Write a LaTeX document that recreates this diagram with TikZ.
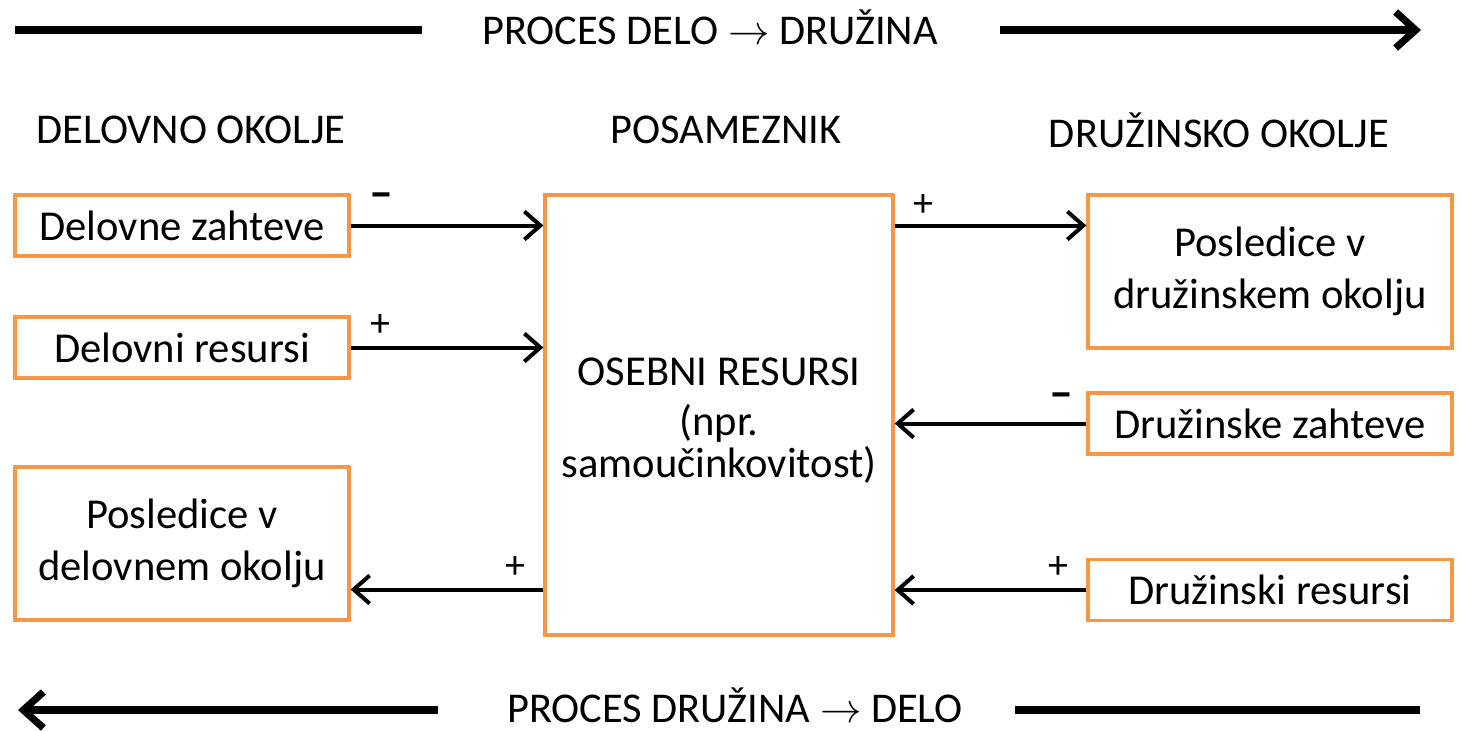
\documentclass[tikz,border=0pt]{standalone}
\usepackage{fontspec}
\setmainfont{Carlito}
\usetikzlibrary{arrows.meta}
\definecolor{boxorange}{RGB}{247,150,70}
\tikzset{
  box/.style={draw=boxorange, line width=1.6pt, align=center, inner sep=0pt,
    font=\fontsize{21.3}{26}\selectfont},
  head/.style={font=\fontsize{21.2}{24}\selectfont, inner sep=0pt},
  conn/.style={line width=2pt, -{Straight Barb[length=8pt,width=14pt,line width=2pt]}},
  big/.style={line width=3.6pt},
  bigtip/.style={line width=3.6pt, -{Straight Barb[length=10pt,width=18pt,line width=3.6pt]}},
  sign/.style={font=\fontsize{20}{24}\selectfont, inner sep=0pt},
  minussign/.style={font=\fontsize{24}{24}\bfseries\selectfont, inner sep=0pt},
}
\begin{document}
\begin{tikzpicture}[x=0.5pt,y=-0.5pt]
\useasboundingbox (0,0) rectangle (1461,730);
% boxes
\node[box, minimum width=334*0.5pt, minimum height=61*0.5pt] (dz) at (182,225.5) {Delovne zahteve};
\node[box, minimum width=334*0.5pt, minimum height=61*0.5pt] (dr) at (182,347.5) {Delovni resursi};
\node[box, minimum width=334*0.5pt, minimum height=153*0.5pt] (pd) at (182,543.5) {Posledice v\\delovnem okolju};
\node[box, minimum width=348*0.5pt, minimum height=440*0.5pt] (os) at (719,415) {};
\node[head, align=center, font=\fontsize{21.3}{21}\selectfont] (ost) at (719,421) {OSEBNI RESURSI\\[4pt](npr.\\samoučinkovitost)};
\node[box, minimum width=364*0.5pt, minimum height=153*0.5pt] (pz) at (1270,271.5) {Posledice v\\družinskem okolju};
\node[box, minimum width=364*0.5pt, minimum height=61*0.5pt] (zz) at (1270,423.5) {Družinske zahteve};
\node[box, minimum width=364*0.5pt, minimum height=61*0.5pt] (zr) at (1270,590) {Družinski resursi};
% headers
\node[head] (h1) at (191,130) {DELOVNO OKOLJE};
\node[head] (h2) at (726,130) {POSAMEZNIK};
\node[head] (h3) at (1219,130) {DRUŽINSKO OKOLJE};
% top and bottom processes
\node[head] (t1) at (710,27) {PROCES DELO $\rightarrow$ DRUŽINA};
\node[head] (t2) at (735,705) {PROCES DRUŽINA $\rightarrow$ DELO};
\coordinate (a1) at (15,30); \coordinate (a2) at (422,30);
\coordinate (a3) at (1000,30); \coordinate (a4) at (1421,30);
\coordinate (b1) at (438,710); \coordinate (b2) at (18,710);
\coordinate (b3) at (1015,710); \coordinate (b4) at (1420,710);
\draw[big] (a1) -- (a2);
\draw[bigtip] (a3) -- (a4);
\draw[bigtip] (b1) -- (b2);
\draw[big] (b3) -- (b4);
% connectors
\draw[conn] (dz.east) -- (dz.east -| os.west);
\draw[conn] (dr.east) -- (dr.east -| os.west);
\draw[conn] (pd.east -| os.west) ++(0,46) coordinate (c1) (c1) -- (c1 -| pd.east);
\draw[conn] (dz.east -| os.east) -- (dz.east -| pz.west);
\draw[conn] (zz.west) -- (zz.west -| os.east);
\draw[conn] (zr.west) -- (zr.west -| os.east);
% signs
\node[minussign] (s1) at (381,201) {–};
\node[sign] (s2) at (380,325) {+};
\node[sign] (s3) at (515,567) {+};
\node[sign] (s4) at (923,205) {+};
\node[minussign] (s5) at (1061,401) {–};
\node[sign] (s6) at (1058,567) {+};
\end{tikzpicture}
\end{document}
